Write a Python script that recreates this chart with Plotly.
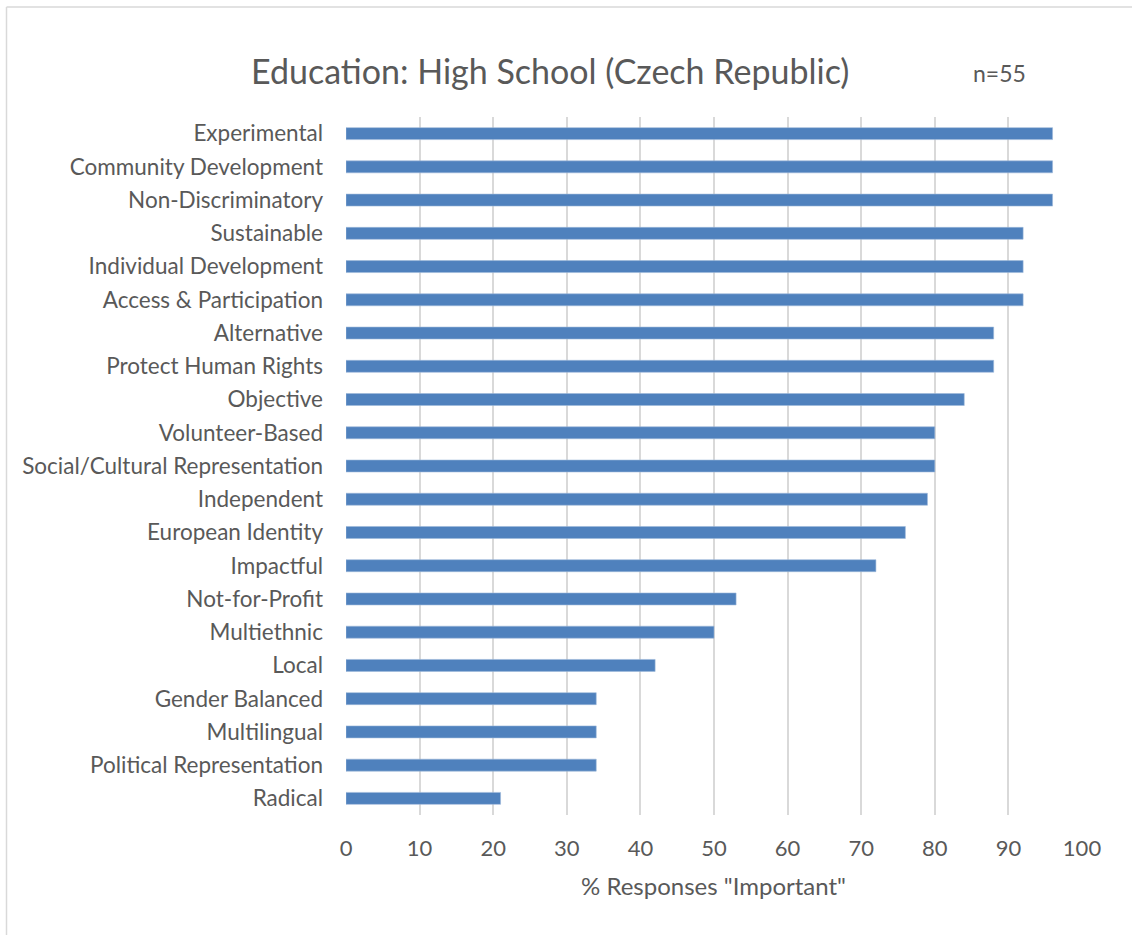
import plotly.graph_objects as go

# Attributes, listed bottom to top as they appear on the category axis
categories = [
    "Radical", "Political Representation", "Multilingual", "Gender Balanced",
    "Local", "Multiethnic", "Not-for-Profit", "Impactful", "European Identity",
    "Independent", "Social/Cultural Representation", "Volunteer-Based",
    "Objective", "Protect Human Rights", "Alternative", "Access & Participation",
    "Individual Development", "Sustainable", "Non-Discriminatory",
    "Community Development", "Experimental",
]
values = [21, 34, 34, 34, 42, 50, 53, 72, 76, 79, 80, 80, 84, 88, 88, 92, 92, 92, 96, 96, 96]
x_ticks = [0, 10, 20, 30, 40, 50, 60, 70, 80, 90, 100]

W, H = 1132, 935
L, R, T, B = 346, 50, 117, 120
pw, ph = W - L - R, H - T - B

def px_x(p):
    return (p - L) / pw

def px_y(p):
    return (H - B - p) / ph

FONT = "Lato, 'Open Sans', sans-serif"
TXT = "#595959"

fig = go.Figure(go.Bar(
    x=values, y=categories, orientation="h",
    marker=dict(color="#4F81BD", line=dict(color="#9DB8DA", width=0.6)),
    width=0.36,
))

fig.update_layout(
    width=W, height=H,
    margin=dict(l=L, r=R, t=T, b=B, pad=0),
    paper_bgcolor="white", plot_bgcolor="white",
    font=dict(family=FONT, color=TXT, size=22),
    showlegend=False,
    xaxis=dict(
        range=[0, 100], tickvals=x_ticks, ticktext=[str(v) for v in x_ticks],
        showgrid=True, gridcolor="#D9D9D9", gridwidth=1.5,
        zeroline=False, showline=False, ticks="",
        ticklabelstandoff=18,
        tickfont=dict(size=22, color=TXT),
    ),
    yaxis=dict(
        categoryorder="array", categoryarray=categories,
        showgrid=False, zeroline=False, showline=False, ticks="",
        ticklabelstandoff=22,
        tickfont=dict(size=22.5, color=TXT),
    ),
    annotations=[
        dict(text="Education: High School (Czech Republic)", xref="paper", yref="paper",
             x=px_x(550), y=px_y(71), xanchor="center", yanchor="middle",
             showarrow=False, font=dict(size=34, color=TXT, family=FONT)),
        dict(text="n=55", xref="paper", yref="paper",
             x=px_x(999), y=px_y(73), xanchor="center", yanchor="middle",
             showarrow=False, font=dict(size=23, color=TXT, family=FONT)),
        dict(text='% Responses "Important"', xref="paper", yref="paper",
             x=px_x(713), y=px_y(886), xanchor="center", yanchor="middle",
             showarrow=False, font=dict(size=24, color=TXT, family=FONT)),
    ],
    shapes=[
        dict(type="line", xref="paper", yref="paper",
             x0=px_x(6.5), x1=px_x(6.5), y0=px_y(7), y1=px_y(940),
             line=dict(color="#D9D9D9", width=1.5)),
        dict(type="line", xref="paper", yref="paper",
             x0=px_x(6.5), x1=px_x(1140), y0=px_y(7), y1=px_y(7),
             line=dict(color="#D9D9D9", width=1.5)),
    ],
)

fig.write_html("out.html")
